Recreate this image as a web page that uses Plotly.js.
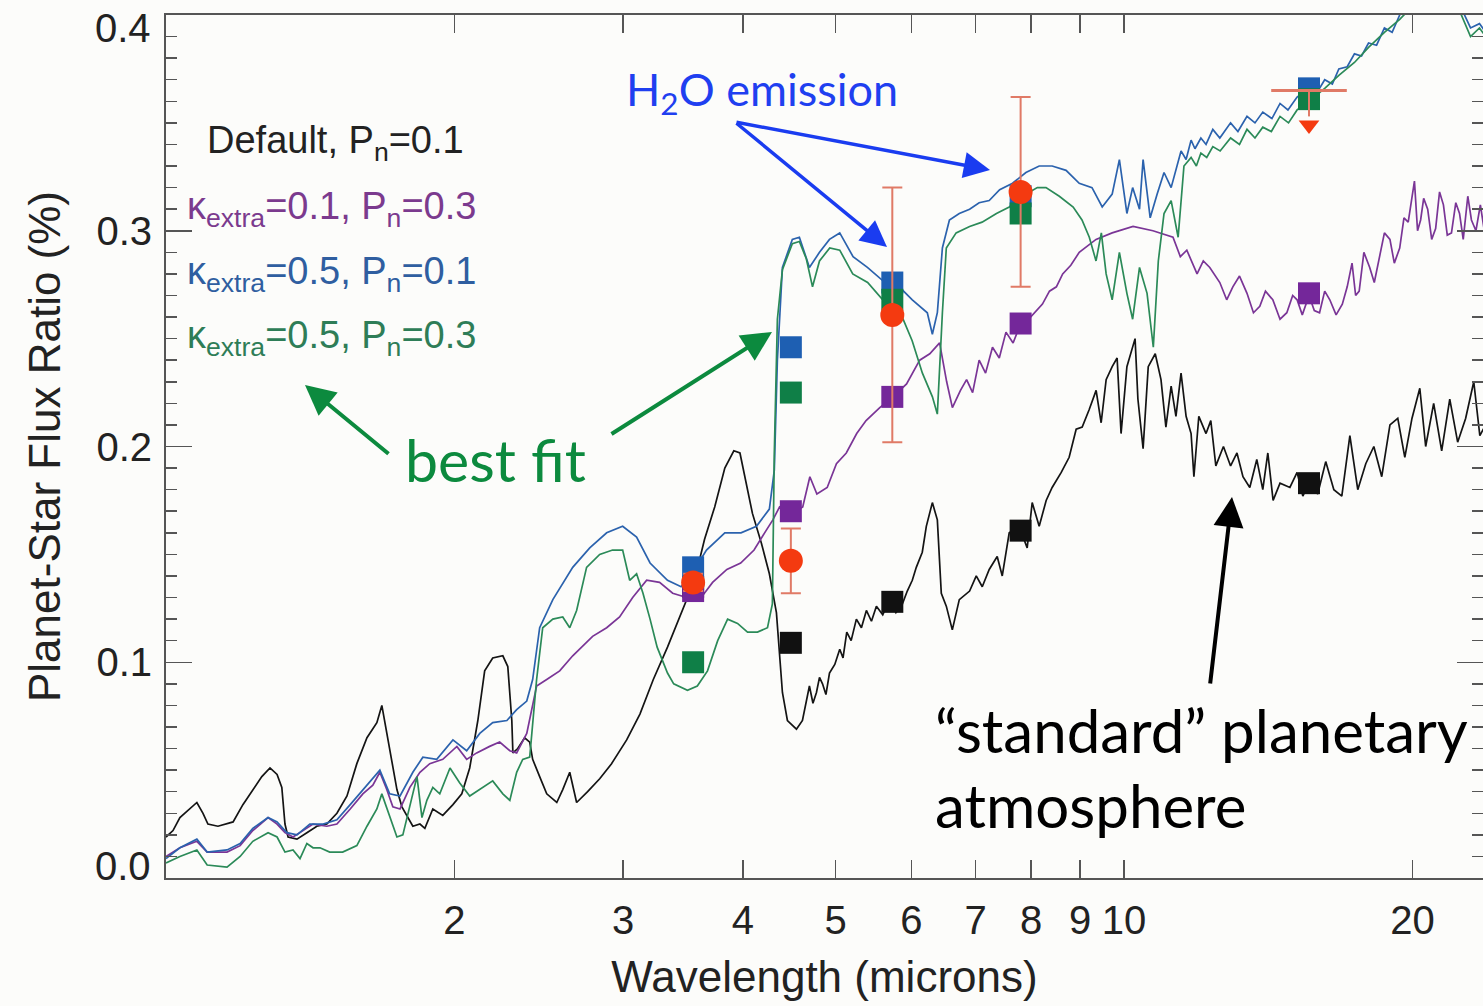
<!DOCTYPE html>
<html>
<head>
<meta charset="utf-8">
<script src="https://cdn.plot.ly/plotly-3.0.1.min.js"></script>
<style>
  html, body { margin: 0; padding: 0; background: #fcfcfa; }
  #chart { width: 1483px; height: 1006px; }
</style>
</head>
<body>
<div id="chart"></div>
<script>
// ---- model spectra: [wavelength (microns), planet-star flux ratio (%)] ----
const defaultSpectrum = [
[1.000,0.019],[1.017,0.022],[1.034,0.028],[1.052,0.031],[1.077,0.035],[1.093,0.030],[1.106,0.025],[1.133,0.024],[1.158,0.025],[1.175,0.026],[1.203,0.034],[1.232,0.041],[1.259,0.047],[1.284,0.051],[1.306,0.048],[1.321,0.042],[1.331,0.025],[1.341,0.019],[1.370,0.018],[1.403,0.021],[1.437,0.024],[1.472,0.025],[1.508,0.030],[1.545,0.038],[1.582,0.053],[1.621,0.065],[1.660,0.072],[1.680,0.080],[1.700,0.067],[1.721,0.055],[1.742,0.041],[1.763,0.033],[1.788,0.028],[1.810,0.024],[1.841,0.025],[1.863,0.023],[1.899,0.032],[1.945,0.029],[1.993,0.034],[2.036,0.039],[2.075,0.051],[2.116,0.073],[2.151,0.096],[2.193,0.102],[2.247,0.103],[2.274,0.098],[2.296,0.073],[2.302,0.058],[2.329,0.060],[2.368,0.065],[2.397,0.063],[2.414,0.055],[2.455,0.047],[2.497,0.039],[2.558,0.035],[2.595,0.041],[2.639,0.049],[2.683,0.035],[2.755,0.040],[2.836,0.046],[2.918,0.053],[3.026,0.064],[3.124,0.076],[3.226,0.092],[3.338,0.107],[3.449,0.123],[3.562,0.138],[3.649,0.157],[3.739,0.172],[3.831,0.190],[3.915,0.198],[3.973,0.197],[4.036,0.183],[4.094,0.169],[4.184,0.155],[4.264,0.141],[4.337,0.123],[4.368,0.104],[4.400,0.086],[4.453,0.073],[4.551,0.069],[4.617,0.073],[4.695,0.089],[4.735,0.081],[4.775,0.086],[4.81,0.093],[4.845,0.090],[4.885,0.085],[4.927,0.095],[4.99,0.099],[5.050,0.106],[5.09,0.102],[5.136,0.114],[5.19,0.110],[5.256,0.120],[5.32,0.116],[5.384,0.124],[5.45,0.119],[5.515,0.126],[5.60,0.122],[5.690,0.129],[5.78,0.123],[5.870,0.127],[5.94,0.133],[6.012,0.138],[6.070,0.144],[6.158,0.151],[6.218,0.163],[6.309,0.174],[6.385,0.166],[6.446,0.132],[6.524,0.126],[6.619,0.115],[6.731,0.129],[6.900,0.133],[7.011,0.140],[7.113,0.135],[7.233,0.143],[7.373,0.149],[7.463,0.140],[7.589,0.160],[7.772,0.163],[7.924,0.153],[8.020,0.174],[8.156,0.163],[8.294,0.175],[8.414,0.181],[8.600,0.188],[8.765,0.195],[8.914,0.208],[9.044,0.209],[9.196,0.217],[9.352,0.226],[9.466,0.211],[9.580,0.231],[9.720,0.237],[9.836,0.241],[9.93,0.206],[10.07,0.237],[10.27,0.250],[10.34,0.222],[10.47,0.199],[10.60,0.237],[10.78,0.243],[10.93,0.231],[11.06,0.209],[11.20,0.228],[11.33,0.214],[11.47,0.234],[11.61,0.214],[11.75,0.206],[11.83,0.186],[11.97,0.214],[12.18,0.206],[12.32,0.212],[12.47,0.191],[12.70,0.200],[12.92,0.191],[13.12,0.197],[13.31,0.186],[13.53,0.181],[13.76,0.194],[13.96,0.180],[14.13,0.197],[14.31,0.175],[14.55,0.183],[14.90,0.181],[15.16,0.188],[15.37,0.177],[15.6,0.183],[15.93,0.178],[16.24,0.193],[16.56,0.180],[16.88,0.177],[17.21,0.205],[17.54,0.180],[17.88,0.192],[18.23,0.200],[18.58,0.186],[18.95,0.210],[19.31,0.213],[19.64,0.195],[19.98,0.213],[20.36,0.227],[20.65,0.200],[21.05,0.220],[21.46,0.198],[21.88,0.222],[22.30,0.202],[22.73,0.213],[23.18,0.230],[23.52,0.205],[23.85,0.210]
];
const k01p03Spectrum = [
[1.000,0.010],[1.034,0.014],[1.077,0.017],[1.104,0.012],[1.158,0.012],[1.195,0.015],[1.232,0.022],[1.278,0.028],[1.306,0.025],[1.331,0.021],[1.357,0.019],[1.390,0.022],[1.424,0.025],[1.472,0.024],[1.508,0.025],[1.557,0.032],[1.605,0.039],[1.644,0.043],[1.672,0.049],[1.700,0.041],[1.725,0.033],[1.755,0.032],[1.797,0.042],[1.841,0.049],[1.885,0.053],[1.945,0.055],[2.012,0.061],[2.060,0.055],[2.110,0.058],[2.177,0.061],[2.230,0.063],[2.285,0.059],[2.323,0.058],[2.380,0.067],[2.437,0.089],[2.497,0.092],[2.576,0.096],[2.658,0.103],[2.788,0.112],[2.884,0.116],[2.975,0.121],[3.070,0.130],[3.175,0.138],[3.275,0.137],[3.380,0.132],[3.495,0.130],[3.605,0.129],[3.72,0.137],[3.85,0.143],[3.98,0.146],[4.11,0.152],[4.23,0.161],[4.30,0.166],[4.37,0.172],[4.51,0.169],[4.62,0.172],[4.70,0.186],[4.78,0.178],[4.90,0.181],[5.01,0.192],[5.13,0.197],[5.26,0.206],[5.38,0.212],[5.56,0.218],[5.74,0.223],[5.93,0.229],[6.12,0.240],[6.27,0.243],[6.42,0.248],[6.53,0.230],[6.62,0.218],[6.75,0.226],[6.85,0.231],[6.95,0.225],[7.06,0.240],[7.17,0.234],[7.29,0.246],[7.41,0.241],[7.53,0.253],[7.66,0.248],[7.80,0.257],[7.95,0.259],[8.10,0.263],[8.22,0.266],[8.36,0.272],[8.5,0.274],[8.63,0.280],[8.8,0.284],[8.98,0.290],[9.35,0.296],[9.72,0.299],[10.22,0.302],[10.72,0.300],[11.25,0.297],[11.45,0.288],[11.63,0.291],[11.92,0.280],[12.1,0.286],[12.29,0.283],[12.59,0.276],[12.8,0.268],[12.99,0.274],[13.2,0.279],[13.44,0.271],[13.65,0.262],[13.86,0.265],[14.05,0.272],[14.30,0.268],[14.55,0.259],[14.79,0.262],[15.0,0.270],[15.16,0.268],[15.35,0.261],[15.6,0.270],[15.8,0.263],[16.0,0.262],[16.2,0.272],[16.4,0.268],[16.65,0.261],[16.9,0.266],[17.1,0.274],[17.3,0.285],[17.45,0.270],[17.6,0.272],[17.8,0.290],[18.05,0.283],[18.25,0.276],[18.5,0.288],[18.7,0.299],[18.95,0.296],[19.15,0.285],[19.4,0.292],[19.6,0.306],[19.8,0.304],[20.1,0.323],[20.25,0.300],[20.4,0.305],[20.55,0.315],[20.75,0.310],[20.95,0.296],[21.15,0.301],[21.35,0.318],[21.55,0.312],[21.75,0.298],[21.97,0.299],[22.2,0.313],[22.4,0.308],[22.6,0.296],[22.85,0.316],[23.05,0.305],[23.3,0.300],[23.55,0.312],[23.85,0.296]
];
const k05p01Spectrum = [
[1.000,0.009],[1.034,0.014],[1.077,0.018],[1.104,0.012],[1.158,0.013],[1.195,0.016],[1.232,0.023],[1.278,0.028],[1.306,0.026],[1.337,0.021],[1.370,0.020],[1.413,0.025],[1.459,0.025],[1.508,0.027],[1.557,0.034],[1.605,0.041],[1.672,0.050],[1.712,0.039],[1.755,0.038],[1.810,0.049],[1.854,0.056],[1.917,0.055],[1.993,0.064],[2.060,0.059],[2.126,0.067],[2.193,0.072],[2.269,0.073],[2.323,0.078],[2.380,0.082],[2.414,0.092],[2.455,0.116],[2.534,0.129],[2.658,0.144],[2.769,0.153],[2.884,0.160],[2.997,0.163],[3.099,0.158],[3.201,0.146],[3.338,0.138],[3.449,0.135],[3.562,0.143],[3.666,0.152],[3.831,0.160],[3.983,0.160],[4.134,0.163],[4.264,0.171],[4.315,0.189],[4.347,0.240],[4.400,0.283],[4.506,0.296],[4.583,0.297],[4.695,0.283],[4.810,0.290],[4.927,0.296],[5.050,0.299],[5.214,0.288],[5.397,0.283],[5.595,0.277],[5.826,0.274],[6.012,0.268],[6.233,0.262],[6.309,0.252],[6.385,0.262],[6.463,0.292],[6.573,0.305],[6.731,0.308],[6.900,0.310],[7.06,0.313],[7.233,0.314],[7.417,0.319],[7.65,0.322],[7.90,0.327],[8.156,0.330],[8.414,0.330],[8.70,0.328],[8.98,0.322],[9.26,0.320],[9.49,0.311],[9.72,0.317],[9.89,0.333],[10.07,0.308],[10.21,0.320],[10.38,0.310],[10.47,0.333],[10.65,0.306],[10.83,0.317],[11.01,0.327],[11.20,0.320],[11.47,0.337],[11.61,0.333],[11.75,0.342],[11.86,0.338],[12.03,0.343],[12.18,0.340],[12.38,0.347],[12.59,0.343],[12.92,0.350],[13.15,0.346],[13.44,0.353],[13.70,0.350],[13.96,0.355],[14.27,0.352],[14.55,0.359],[14.83,0.356],[15.16,0.362],[15.6,0.366],[15.9,0.364],[16.2,0.370],[16.5,0.368],[16.76,0.375],[17.1,0.376],[17.4,0.382],[17.7,0.381],[18.0,0.387],[18.35,0.386],[18.7,0.394],[19.05,0.392],[19.4,0.400],[20.1,0.408],[21.3,0.412],[22.4,0.405],[23.0,0.394],[23.5,0.396],[23.85,0.392]
];
const k05p03Spectrum = [
[1.000,0.007],[1.034,0.010],[1.077,0.013],[1.104,0.006],[1.158,0.005],[1.195,0.010],[1.232,0.017],[1.278,0.021],[1.306,0.019],[1.331,0.012],[1.357,0.013],[1.380,0.009],[1.403,0.016],[1.424,0.014],[1.448,0.014],[1.482,0.012],[1.529,0.012],[1.582,0.015],[1.621,0.024],[1.660,0.032],[1.680,0.039],[1.712,0.028],[1.742,0.019],[1.767,0.020],[1.797,0.033],[1.828,0.047],[1.850,0.028],[1.872,0.036],[1.899,0.042],[1.931,0.039],[1.979,0.051],[2.026,0.044],[2.075,0.038],[2.126,0.041],[2.193,0.045],[2.247,0.039],[2.285,0.036],[2.323,0.049],[2.357,0.055],[2.397,0.056],[2.437,0.092],[2.473,0.116],[2.534,0.120],[2.595,0.121],[2.639,0.116],[2.683,0.124],[2.748,0.144],[2.836,0.150],[2.925,0.152],[2.997,0.152],[3.048,0.138],[3.099,0.141],[3.147,0.132],[3.201,0.120],[3.256,0.107],[3.338,0.095],[3.388,0.090],[3.502,0.087],[3.586,0.089],[3.675,0.096],[3.766,0.110],[3.857,0.120],[3.950,0.118],[4.046,0.114],[4.144,0.114],[4.245,0.116],[4.295,0.127],[4.315,0.197],[4.347,0.259],[4.400,0.282],[4.506,0.294],[4.583,0.295],[4.660,0.287],[4.73,0.274],[4.81,0.286],[4.93,0.292],[5.05,0.291],[5.21,0.280],[5.40,0.276],[5.60,0.268],[5.83,0.263],[6.01,0.249],[6.16,0.234],[6.31,0.223],[6.385,0.215],[6.463,0.262],[6.524,0.292],[6.68,0.299],[6.90,0.302],[7.11,0.304],[7.36,0.308],[7.59,0.311],[7.83,0.316],[8.12,0.320],[8.29,0.320],[8.56,0.316],[8.85,0.311],[9.04,0.305],[9.20,0.297],[9.35,0.286],[9.47,0.299],[9.58,0.280],[9.72,0.268],[9.89,0.290],[10.07,0.271],[10.21,0.259],[10.38,0.283],[10.57,0.271],[10.73,0.246],[10.86,0.286],[11.01,0.308],[11.20,0.314],[11.39,0.297],[11.55,0.330],[11.75,0.334],[11.9,0.330],[12.03,0.336],[12.2,0.334],[12.38,0.339],[12.6,0.337],[12.92,0.343],[13.2,0.340],[13.44,0.347],[13.7,0.343],[13.96,0.348],[14.25,0.346],[14.55,0.353],[14.85,0.350],[15.16,0.356],[15.6,0.360],[16.2,0.366],[16.76,0.372],[17.4,0.378],[18.0,0.385],[18.7,0.392],[19.4,0.398],[20.1,0.405],[21.3,0.410],[22.4,0.402],[23.0,0.390],[23.5,0.394],[23.85,0.390]
];

// ---- band-integrated model values ----
const bandWavelengths = [3.55, 4.49, 5.73, 7.8, 15.6];
const bandDefault = [0.135, 0.109, 0.128, 0.161, 0.183];
const bandK01P03  = [0.133, 0.170, 0.223, 0.257, 0.271];
const bandK05P01  = [0.144, 0.246, 0.276, 0.316, 0.366];
const bandK05P03  = [0.100, 0.225, 0.268, 0.308, 0.361];

// ---- observed data ----
const obsWavelengths = [3.55, 4.49, 5.73, 7.8];
const obsValues = [0.137, 0.147, 0.261, 0.318];
const obsErrors = [0.004, 0.015, 0.059, 0.044];
const limitWavelengths = [15.6];
const limitValues = [0.365];

// ---- tick labels (end labels are drawn just inside the frame, as in the original) ----
const xTickVals = [2, 3, 4, 5, 6, 7, 8, 9, 10, 20];
const xTickText = ['2', '3', '4', '5', '6', '7', '8', '9', '10', '20'];
const yTickVals = [0, 0.1, 0.2, 0.3, 0.4];
const yTickText = ['', '0.1', '0.2', '0.3', ''];
const yEndLabels = ['0.0', '0.4'];

const COL = {
  black: '#141414', purple: '#7a3596', blue: '#2b62ad', green: '#2b8a58',
  sqBlack: '#111111', sqPurple: '#74279a', sqBlue: '#1e5fb2', sqGreen: '#0f7f47',
  red: '#f43a10', err: '#e07a66'
};

function lineTrace(pts, color) {
  return { x: pts.map(p => p[0]), y: pts.map(p => p[1]), type: 'scatter', mode: 'lines',
           line: { color: color, width: 1.7 }, hoverinfo: 'skip', showlegend: false };
}
function squareTrace(vals, color) {
  return { x: bandWavelengths, y: vals, type: 'scatter', mode: 'markers',
           marker: { symbol: 'square', size: 22, color: color }, showlegend: false };
}

const traces = [
  lineTrace(defaultSpectrum, COL.black),
  lineTrace(k01p03Spectrum, COL.purple),
  lineTrace(k05p01Spectrum, COL.blue),
  lineTrace(k05p03Spectrum, COL.green),
  squareTrace(bandDefault, COL.sqBlack),
  squareTrace(bandK05P01, COL.sqBlue),
  squareTrace(bandK05P03, COL.sqGreen),
  squareTrace(bandK01P03, COL.sqPurple),
  { x: obsWavelengths, y: obsValues, type: 'scatter', mode: 'markers',
    marker: { symbol: 'circle', size: 24, color: COL.red },
    error_y: { type: 'data', array: obsErrors, visible: true, color: COL.err, thickness: 2, width: 10 },
    showlegend: false },
  // upper limit: horizontal bar, stem, and downward arrow head
  { x: limitWavelengths, y: limitValues, type: 'scatter', mode: 'markers',
    marker: { symbol: 'line-ew', size: 54, line: { color: COL.err, width: 3 } }, showlegend: false },
  { x: [limitWavelengths[0], limitWavelengths[0]], y: [limitValues[0], limitValues[0] - 0.012],
    type: 'scatter', mode: 'lines', line: { color: COL.err, width: 2 }, showlegend: false },
  { x: limitWavelengths, y: [limitValues[0] - 0.016], type: 'scatter', mode: 'markers',
    marker: { symbol: 'triangle-down', size: 18, color: COL.red }, showlegend: false }
];

// paper coordinates helper for annotations (plot area 166..1483 x 15..878)
const PX = px => (px - 166) / 1317;
const PY = py => (878 - py) / 863;

const legendFont = 'Liberation Sans, Arial, Helvetica, sans-serif';
const noteFont = 'Lato, Open Sans, sans-serif';

function label(text, px, py, color, size, font, anchor) {
  return { xref: 'paper', yref: 'paper', x: PX(px), y: PY(py), text: text, showarrow: false,
           xanchor: anchor || 'left', yanchor: 'middle', align: 'left',
           font: { family: font, size: size, color: color } };
}
function arrow(headX, headY, tailX, tailY, color, width) {
  return { xref: 'paper', yref: 'paper', x: PX(headX), y: PY(headY), ax: tailX - headX, ay: tailY - headY,
           text: '', showarrow: true, arrowhead: 2, arrowsize: 1.5, arrowwidth: width, arrowcolor: color,
           standoff: 0, startstandoff: 0 };
}

const annotations = [
  label(yEndLabels[0], 153, 866, '#222222', 40, legendFont, 'right'),
  label(yEndLabels[1], 153, 28, '#222222', 40, legendFont, 'right'),
  label('Default, P<sub>n</sub>=0.1', 205, 143, '#222222', 38, legendFont),
  label('κ<sub>extra</sub>=0.1, P<sub>n</sub>=0.3', 185, 209, '#7b3a8e', 38, legendFont),
  label('κ<sub>extra</sub>=0.5, P<sub>n</sub>=0.1', 185, 274, '#2f5ea0', 38, legendFont),
  label('κ<sub>extra</sub>=0.5, P<sub>n</sub>=0.3', 185, 338, '#2e7d57', 38, legendFont),
  label('H<sub>2</sub>O emission', 762, 92, '#1f3ff0', 45, noteFont, 'center'),
  label('best fit', 495, 460, '#0c8a3e', 59, noteFont, 'center'),
  label('“standard” planetary', 933, 730, '#000000', 60, noteFont),
  label('atmosphere', 933, 805, '#000000', 60, noteFont),
  arrow(887, 247, 735, 122, '#1a3cf0', 3.5),
  arrow(990, 170, 735, 122, '#1a3cf0', 3.5),
  arrow(305, 385, 390, 455, '#0c8a3e', 4),
  arrow(772, 332, 610, 435, '#0c8a3e', 4),
  arrow(1232, 497, 1210, 685, '#000000', 4)
];

const axisFont = { family: legendFont, size: 40, color: '#222222' };

const layout = {
  width: 1483, height: 1006,
  margin: { l: 166, r: 0, t: 15, b: 128 },
  paper_bgcolor: '#fcfcfa', plot_bgcolor: '#fcfcfa',
  showlegend: false,
  xaxis: {
    type: 'log', range: [0, Math.log10(23.7)],
    tickmode: 'array', tickvals: xTickVals, ticktext: xTickText,
    ticks: 'inside', ticklen: 18, tickwidth: 1.5, tickcolor: '#555555',
    showline: true, linecolor: '#555555', linewidth: 2, mirror: 'allticks',
    showgrid: false, zeroline: false, tickfont: axisFont, ticklabelstandoff: 6,
    title: { text: 'Wavelength (microns)', font: { family: legendFont, size: 44, color: '#222222' }, standoff: 20 }
  },
  yaxis: {
    range: [0, 0.4], tickmode: 'array', tickvals: yTickVals, ticktext: yTickText,
    ticks: 'inside', ticklen: 26, tickwidth: 1.5, tickcolor: '#555555',
    minor: { dtick: 0.01, tick0: 0, ticks: 'inside', ticklen: 11, tickwidth: 1.5, tickcolor: '#555555', showgrid: false },
    showline: true, linecolor: '#555555', linewidth: 2, mirror: 'allticks',
    showgrid: false, zeroline: false, tickfont: axisFont, ticklabelstandoff: 4,
    title: { text: 'Planet-Star Flux Ratio (%)', font: { family: legendFont, size: 44, color: '#222222' }, standoff: 22 }
  },
  annotations: annotations
};

Plotly.newPlot('chart', traces, layout, { staticPlot: true, displayModeBar: false });
</script>
</body>
</html>
